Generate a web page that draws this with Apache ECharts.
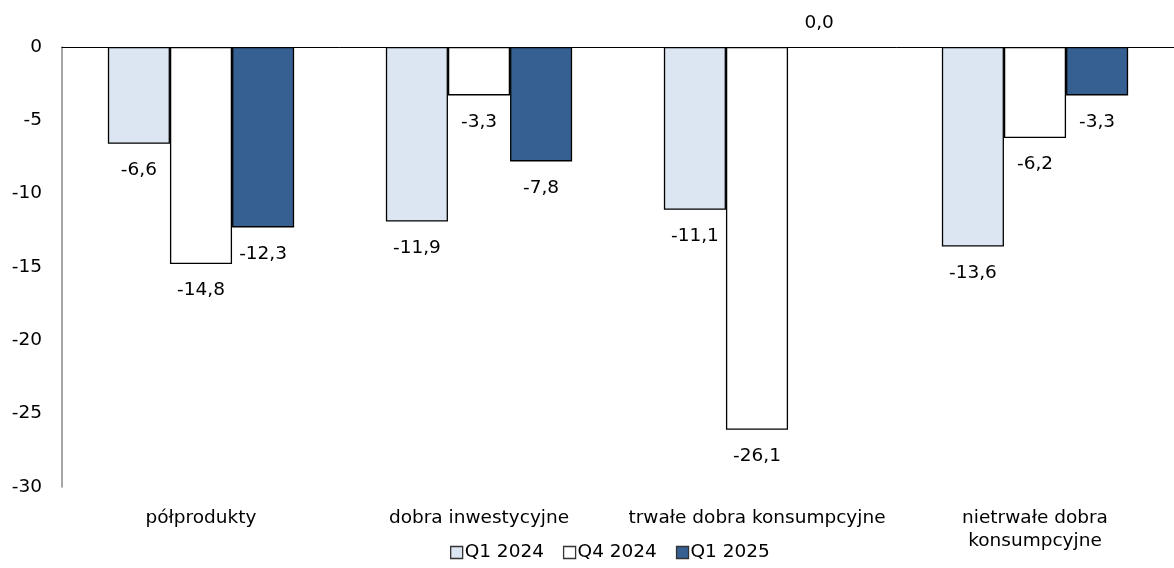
<!DOCTYPE html>
<html>
<head>
<meta charset="utf-8">
<script src="https://cdn.jsdelivr.net/npm/echarts@6/dist/echarts.min.js"></script>
<style>
html,body{margin:0;padding:0;background:#fff;}
#chart{width:1174px;height:568px;}
</style>
</head>
<body>
<div id="chart"></div>
<script>
var categories = ['półprodukty', 'dobra inwestycyjne', 'trwałe dobra konsumpcyjne', 'nietrwałe dobra\nkonsumpcyjne'];
var seriesNames = ['Q1 2024', 'Q4 2024', 'Q1 2025'];
var q1_2024 = [-6.6, -11.9, -11.1, -13.6];
var q4_2024 = [-14.8, -3.3, -26.1, -6.2];
var q1_2025 = [-12.3, -7.8, 0.0, -3.3];
var colors = ['#dce6f2', '#ffffff', '#376092'];
var yTicks = [0, -5, -10, -15, -20, -25, -30];

var font = 'DejaVu Sans';
var fs = 18.5;

function fmt(v) {
    return v.toFixed(1).replace('.', ',');
}

// wartosci >= 0 maja etykiete nad slupkiem
function buildData(arr) {
    var out = [];
    for (var i = 0; i < arr.length; i++) {
        if (arr[i] >= 0) {
            out.push({value: arr[i], label: {position: 'top', distance: 14}, itemStyle: {borderWidth: 0}});
        } else {
            out.push(arr[i]);
        }
    }
    return out;
}

var allData = [q1_2024, q4_2024, q1_2025];
var series = [];
for (var s = 0; s < allData.length; s++) {
    series.push({
        name: seriesNames[s],
        type: 'bar',
        xAxisIndex: 0,
        data: buildData(allData[s]),
        barGap: '0%',
        barCategoryGap: '33%',
        itemStyle: {color: colors[s], borderColor: '#000', borderWidth: 1.3},
        label: {
            show: true,
            position: 'bottom',
            distance: 17,
            color: '#000',
            fontFamily: font,
            fontSize: fs,
            formatter: function (p) { return fmt(p.value); }
        }
    });
}

var chart = echarts.init(document.getElementById('chart'));
chart.setOption({
    animation: false,
    color: colors,
    grid: {left: 62, right: 0, top: 47, bottom: 81},
    legend: {
        bottom: 1,
        left: 445,
        itemWidth: 12,
        itemHeight: 12,
        itemGap: 19,
        icon: 'rect',
        itemStyle: {borderColor: '#333', borderWidth: 1.3},
        textStyle: {fontFamily: font, fontSize: fs, color: '#000', padding: [0, 0, 0, -3]},
        data: seriesNames
    },
    xAxis: [
        {
            type: 'category',
            data: categories,
            position: 'top',
            axisLine: {show: true, onZero: false, lineStyle: {color: '#000', width: 1}},
            axisTick: {show: false},
            axisLabel: {show: false}
        },
        {
            type: 'category',
            data: categories,
            position: 'bottom',
            axisLine: {show: false},
            axisTick: {show: false},
            axisLabel: {
                color: '#000', fontFamily: font, fontSize: fs, margin: 20,
                lineHeight: 23, interval: 0
            }
        }
    ],
    yAxis: {
        type: 'value',
        min: -30,
        max: 0,
        interval: 5,
        axisLine: {show: true, lineStyle: {color: '#888', width: 1.5}},
        axisTick: {show: false},
        splitLine: {show: false},
        axisLabel: {
            color: '#000', fontFamily: font, fontSize: fs, margin: 20,
            formatter: function (v) { return yTicks.indexOf(v) >= 0 ? String(v) : ''; }
        }
    },
    series: series
});
</script>
</body>
</html>
